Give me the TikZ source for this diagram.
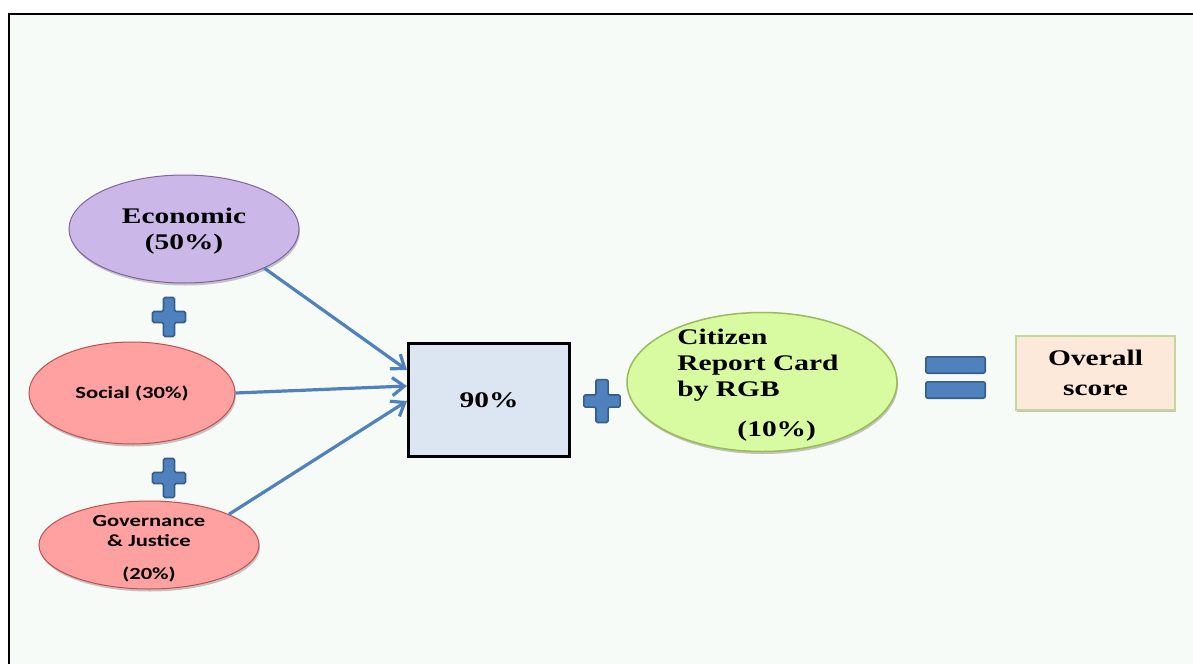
\documentclass[tikz,border=0pt]{standalone}
\usepackage{fontspec}
\usetikzlibrary{shapes.geometric, arrows.meta, shadows}

\newfontfamily\scoreserif[FakeStretch=1.32]{Liberation Serif}
\newfontfamily\scoresans[FakeStretch=1.33]{Carlito}

\definecolor{mintbg}{RGB}{246,251,248}
\definecolor{lavender}{RGB}{204,184,232}
\definecolor{lavenderline}{RGB}{128,100,162}
\definecolor{salmon}{RGB}{255,161,161}
\definecolor{salmonline}{RGB}{192,80,77}
\definecolor{lime}{RGB}{216,250,160}
\definecolor{limeline}{RGB}{155,187,89}
\definecolor{steel}{RGB}{79,129,189}
\definecolor{steeldark}{RGB}{56,93,138}
\definecolor{boxblue}{RGB}{220,230,242}
\definecolor{peach}{RGB}{253,233,217}
\definecolor{oliveline}{RGB}{195,214,155}

\tikzset{
	pillar/.style = {ellipse, draw, line width = 1pt, inner sep = 0pt,
		drop shadow = {shadow xshift = 1pt, shadow yshift = -2.5pt, fill = black!45, opacity = 0.5}},
	serif label/.style = {font = \scoreserif\bfseries\fontsize{22.3}{26}\selectfont, align = center, inner sep = 0pt},
	sans label/.style = {font = \scoresans\bfseries\fontsize{17}{20}\selectfont, align = center, inner sep = 0pt},
	feed/.style = {draw = steel, line width = 3.2pt, -{Straight Barb[length = 12pt, width = 18pt]}},
	markbar/.style = {draw = steeldark, fill = steel, line width = 1.6pt, rounded corners = 1.5pt},
	pics/plussign/.style = {code = {
		\draw [markbar] (-16.5,-5.5) -- (-5.5,-5.5) -- (-5.5,-19.5) -- (5.5,-19.5) -- (5.5,-5.5) -- (16.5,-5.5)
		-- (16.5,5.5) -- (5.5,5.5) -- (5.5,19.5) -- (-5.5,19.5) -- (-5.5,5.5) -- (-16.5,5.5) -- cycle;
	}}
}

\begin{document}
\begin{tikzpicture}[x = 1pt, y = -1pt]

				\useasboundingbox (0,0) rectangle (1193,664);
				\fill [white] (0,0) rectangle (1193,664);
				\fill [mintbg] (9.3,14.3) rectangle (1193,664);
				\draw [line width = 2.2pt] (9.3,664) -- (9.3,14.3) -- (1193,14.3);

				\node [pillar, draw = lavenderline, fill = lavender, minimum width = 230, minimum height = 108] (econ) at (184,229) {};
				\node [serif label] (econ-text) at ([yshift = -2pt]econ.center) {Economic\\(50\%)};

				\node [pillar, draw = salmonline, fill = salmon, minimum width = 206, minimum height = 102] (social) at (132,393) {};
				\node [sans label] (social-text) at (social) {Social (30\%)};

				\node [pillar, draw = salmonline, fill = salmon, minimum width = 220, minimum height = 88] (gov) at (149,545) {};
				\node [sans label] (gov-text) at ([yshift = -3.5pt]gov.center) {Governance\\ \& Justice\\[13pt] (20\%)};

				\pic at (169,317) {plussign};
				\pic at (169,478) {plussign};

				\node [serif label, draw, line width = 3pt, fill = boxblue, minimum width = 161, minimum height = 113] (base) at (489,400) {90\%};

				\draw [feed] (econ.-26) -- ([yshift = 30pt]base.west);
				\draw [feed] (social.east) -- ([yshift = 14pt]base.west);
				\draw [feed] (gov.21) -- ([yshift = -1pt]base.west);

				\pic [scale = 1.1] at (602,401) {plussign};

				\node [pillar, draw = limeline, line width = 1.5pt, fill = lime, minimum width = 270, minimum height = 139] (crc) at (762,382) {};
				\node [serif label, align = left] (crc-text) at ([xshift = -4pt, yshift = -3.5pt]crc.center)
				{Citizen\\Report Card\\by RGB\\[14pt]\hspace*{60pt}(10\%)};

				\draw [markbar, rounded corners = 2pt] (925.8,356.8) rectangle (985.2,373.2);
				\draw [markbar, rounded corners = 2pt] (925.8,381.8) rectangle (985.2,398.2);

				\node [serif label, draw = oliveline, line width = 2pt, fill = peach, minimum width = 159, minimum height = 74,
				font = \scoreserif\bfseries\fontsize{22.3}{30}\selectfont,
				drop shadow = {shadow xshift = 1pt, shadow yshift = -2.5pt, fill = black!45, opacity = 0.5}]
				(total) at (1095.5,372.5) {Overall\\score};

			\end{tikzpicture}
\end{document}
